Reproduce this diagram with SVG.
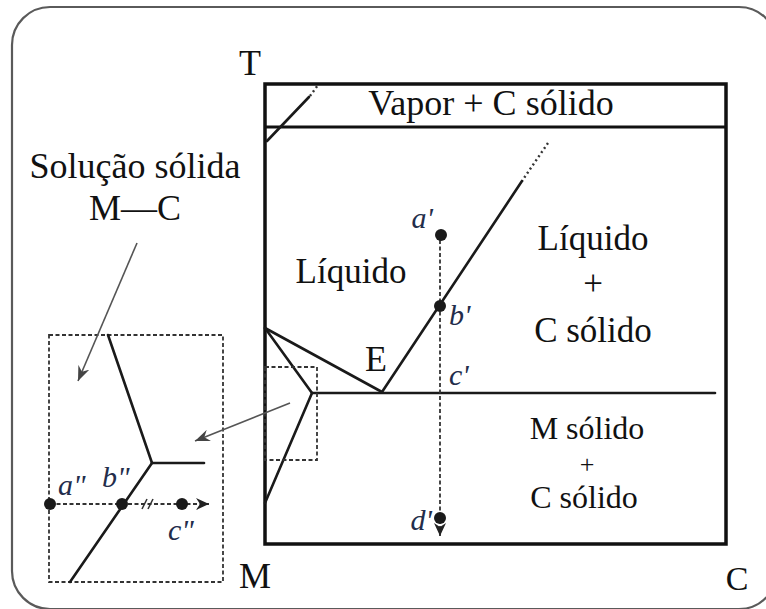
<svg xmlns="http://www.w3.org/2000/svg" width="766" height="609" viewBox="0 0 766 609">
<defs>
<style>
.t{font-family:"Liberation Serif","Times New Roman",serif;fill:#111;}
.lb{font-family:"Liberation Serif","Times New Roman",serif;font-style:italic;fill:#232d4b;font-size:30px;}
.ln{stroke:#1a1a1a;stroke-width:2.6;fill:none;stroke-linecap:round;}
.dot{fill:#1a1a1a;}
.dash{stroke:#333;stroke-width:1.8;fill:none;stroke-dasharray:4 2.5;}
.dots{stroke:#333;stroke-width:2.4;fill:none;stroke-dasharray:2 3;}
.ptr{stroke:#555;stroke-width:1.6;fill:none;}
</style>
<marker id="ah" markerUnits="userSpaceOnUse" markerWidth="16" markerHeight="12" refX="15" refY="6" orient="auto">
<path d="M0,0 L15,6 L0,12 L5,6 z" fill="#444"/>
</marker>
<marker id="ahd" markerUnits="userSpaceOnUse" markerWidth="14" markerHeight="12" refX="13" refY="6" orient="auto">
<path d="M0,0 L13,6 L0,12 L4,6 z" fill="#222"/>
</marker>
</defs>
<rect x="0" y="0" width="766" height="609" fill="#fff"/>
<rect id="frame" x="12" y="7" width="765" height="602" rx="38" ry="38" fill="none" stroke="#5a5a5a" stroke-width="2.2"/>

<g id="main-diagram">
<rect x="265" y="84" width="461" height="460" fill="none" stroke="#111" stroke-width="3.5"/>
<line x1="265" y1="127" x2="726" y2="127" stroke="#111" stroke-width="3"/>
<line class="ln" x1="267" y1="141" x2="309" y2="97"/>
<line class="dots" x1="310" y1="96" x2="318" y2="85"/>
<line class="dots" x1="548" y1="143" x2="522" y2="181"/>
<line class="ln" x1="522" y1="181" x2="382" y2="392"/>
<line class="ln" x1="265" y1="328" x2="382" y2="392"/>
<line class="ln" x1="265" y1="328" x2="312" y2="393"/>
<line class="ln" x1="312" y1="393" x2="265" y2="503"/>
<line class="ln" x1="312" y1="393" x2="715" y2="393"/>
<rect class="dash" x="265" y="367" width="52" height="93"/>
</g>

<g id="axis-labels">
<text class="t" x="250" y="75" font-size="36" text-anchor="middle">T</text>
<text class="t" x="255" y="588" font-size="36" text-anchor="middle">M</text>
<text class="t" x="737" y="590" font-size="34" text-anchor="middle">C</text>
</g>

<g id="region-vapor"><text class="t" x="491" y="115" font-size="36" text-anchor="middle">Vapor + C sólido</text></g>
<g id="region-liquido"><text class="t" x="351" y="283" font-size="35" text-anchor="middle">Líquido</text></g>
<g id="region-liquido-c">
<text class="t" font-size="35" text-anchor="middle"><tspan x="593" y="250">Líquido</tspan><tspan x="593" y="295">+</tspan><tspan x="593" y="342">C sólido</tspan></text>
</g>
<g id="region-solid">
<text class="t" x="587" y="439" font-size="32" text-anchor="middle">M sólido</text>
<text class="t" x="587" y="473" font-size="26" text-anchor="middle">+</text>
<text class="t" x="584" y="508" font-size="32" text-anchor="middle">C sólido</text>
</g>
<g id="eutectic"><text class="t" x="376" y="371" font-size="36" text-anchor="middle">E</text></g>
<g id="label-solucao">
<text class="t" x="135" y="178" font-size="36" text-anchor="middle">Solução sólida</text>
<text class="t" x="135" y="220" font-size="36" text-anchor="middle">M—C</text>
</g>

<g id="cooling-path">
<line class="dash" x1="440" y1="240" x2="440" y2="536" marker-end="url(#ahd)"/>
<circle class="dot" cx="441" cy="235" r="6"/>
<circle class="dot" cx="440" cy="306" r="6"/>
<circle class="dot" cx="440" cy="518" r="6"/>
<text class="lb" x="433" y="228" text-anchor="end">a'</text>
<text class="lb" x="449" y="325">b'</text>
<text class="lb" x="449" y="385">c'</text>
<text class="lb" x="432" y="530" text-anchor="end">d'</text>
</g>

<g id="enlarged">
<rect class="dash" x="49" y="335" width="174" height="247"/>
<line class="ln" x1="108" y1="335" x2="152" y2="463"/>
<line class="ln" x1="152" y1="463" x2="204" y2="463"/>
<line class="ln" x1="152" y1="463" x2="70" y2="582"/>
<line class="dash" x1="50" y1="504" x2="209" y2="504" marker-end="url(#ahd)"/>
<line stroke="#333" stroke-width="1.6" x1="142" y1="509" x2="147" y2="499"/>
<line stroke="#333" stroke-width="1.6" x1="148" y1="509" x2="153" y2="499"/>
<circle class="dot" cx="50" cy="504" r="6"/>
<circle class="dot" cx="122" cy="504" r="6"/>
<circle class="dot" cx="182" cy="504" r="6"/>
<text class="lb" x="58" y="495">a"</text>
<text class="lb" x="102" y="487">b"</text>
<text class="lb" x="168" y="540">c"</text>
</g>

<g id="connectors">
<line class="ptr" x1="290" y1="403" x2="195" y2="441" marker-end="url(#ah)"/>
<line class="ptr" x1="137" y1="243" x2="78" y2="381" marker-end="url(#ah)"/>
</g>
</svg>
